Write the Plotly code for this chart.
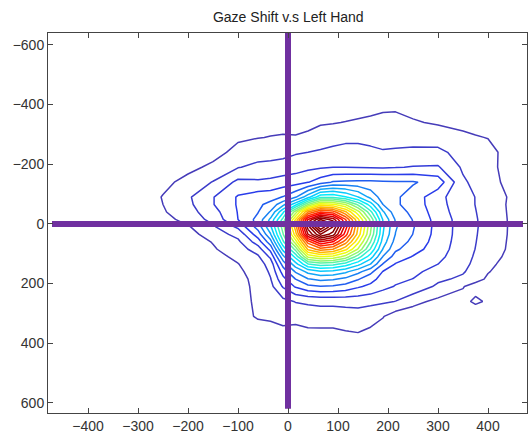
import plotly.graph_objects as go

# ---- density grid ----
grid_x = [-300, -250, -200, -150, -100, -60, -35, -10, 15, 40, 65, 90, 115, 140, 165, 190, 215, 250, 300, 350, 375, 400, 450]
grid_y = [-390, -340, -290, -240, -190, -140, -90, -65, -40, -15, 10, 35, 60, 85, 110, 135, 160, 185, 210, 260, 310, 360, 410]

z_r01 = [0.05, 0.08, 0.12, 0.18, 0.33, 0.40, 0.43, 0.46, 0.45, 0.48, 0.50, 0.50, 0.55, 0.70, 0.80, 0.90, 0.92, 0.75, 0.55, 0.45, 0.38, 0.30, 0.10]
z_r02 = [0.07, 0.12, 0.18, 0.30, 0.52, 0.65, 0.72, 0.78, 0.75, 0.80, 0.92, 0.95, 1.03, 1.10, 1.15, 1.20, 1.20, 1.08, 0.90, 0.80, 0.68, 0.55, 0.20]
z_r03 = [0.10, 0.16, 0.28, 0.45, 0.85, 0.97, 1.03, 1.06, 1.05, 1.15, 1.35, 1.55, 1.75, 1.75, 1.65, 1.55, 1.60, 1.55, 1.50, 1.15, 1.06, 0.97, 0.35]
z_r04 = [0.14, 0.25, 0.40, 0.66, 1.29, 1.55, 1.60, 1.70, 1.90, 2.00, 2.15, 2.30, 2.35, 2.35, 2.25, 2.10, 2.15, 2.25, 2.25, 1.60, 1.45, 1.30, 0.55]
z_r05 = [0.20, 0.45, 0.75, 1.20, 1.95, 2.25, 2.30, 2.40, 2.55, 2.75, 2.90, 2.98, 2.98, 2.95, 2.93, 2.90, 2.95, 3.05, 3.10, 1.85, 1.55, 1.25, 0.60]
z_r06 = [0.30, 0.75, 1.30, 2.05, 3.25, 3.15, 3.25, 3.45, 3.60, 3.95, 4.50, 5.10, 5.15, 5.20, 5.20, 5.15, 5.10, 5.10, 4.60, 2.15, 1.75, 1.35, 0.65]
z_r07 = [0.40, 1.05, 1.85, 2.95, 4.10, 4.50, 4.60, 5.05, 5.90, 7.60, 9.70, 9.80, 9.10, 8.03, 6.72, 5.50, 5.15, 4.60, 3.30, 2.35, 1.98, 1.60, 0.80]
z_r08 = [0.35, 1.00, 1.75, 2.95, 4.10, 4.80, 5.30, 6.70, 8.60, 12.00, 14.50, 14.20, 13.00, 10.80, 8.52, 6.00, 5.15, 4.60, 3.35, 2.40, 1.98, 1.55, 0.78]
z_r09 = [0.30, 0.90, 1.60, 2.60, 4.05, 4.95, 6.10, 8.80, 12.50, 17.00, 19.00, 18.50, 16.20, 13.40, 10.29, 7.14, 5.40, 4.80, 3.45, 2.46, 2.03, 1.60, 0.79]
z_r10 = [0.30, 0.60, 1.40, 2.30, 4.00, 5.30, 7.20, 10.30, 15.00, 21.00, 24.00, 22.50, 19.00, 15.20, 11.73, 7.90, 5.89, 4.95, 3.60, 2.53, 2.08, 1.63, 0.81]
z_r11 = [0.30, 0.54, 0.90, 1.85, 3.20, 5.40, 7.80, 11.50, 16.50, 23.50, 28.00, 25.00, 20.50, 16.00, 12.25, 8.17, 6.10, 5.08, 3.64, 2.55, 2.10, 1.64, 0.82]
z_r12 = [0.28, 0.40, 0.60, 1.50, 2.30, 4.50, 6.90, 10.90, 15.50, 22.00, 25.00, 23.50, 19.50, 15.60, 11.93, 8.01, 5.97, 4.98, 3.62, 2.54, 2.07, 1.60, 0.82]
z_r13 = [0.25, 0.35, 0.50, 1.05, 1.80, 3.50, 5.60, 9.80, 13.50, 18.50, 21.00, 20.00, 17.50, 14.30, 11.03, 7.54, 5.63, 4.73, 3.55, 2.50, 2.03, 1.55, 0.80]
z_r14 = [0.22, 0.30, 0.40, 0.90, 1.50, 2.50, 4.30, 8.30, 11.30, 16.20, 17.50, 17.00, 15.30, 12.90, 9.90, 6.93, 5.19, 4.41, 3.45, 2.45, 1.98, 1.50, 0.78]
z_r15 = [0.20, 0.25, 0.35, 0.70, 1.20, 1.85, 3.20, 6.70, 9.30, 13.20, 14.00, 13.70, 12.60, 10.50, 8.48, 5.94, 4.57, 3.94, 3.25, 2.40, 1.88, 1.35, 0.72]
z_r16 = [0.18, 0.22, 0.30, 0.55, 0.97, 1.55, 2.40, 5.40, 7.60, 9.89, 10.50, 10.26, 9.50, 8.33, 6.99, 4.93, 3.93, 3.64, 3.00, 2.30, 1.75, 1.20, 0.60]
z_r17 = [0.15, 0.20, 0.28, 0.50, 0.85, 1.35, 2.15, 4.40, 6.10, 7.30, 7.83, 7.70, 7.22, 6.32, 5.30, 3.95, 3.52, 3.25, 2.60, 2.10, 1.58, 1.05, 0.50]
z_r18 = [0.14, 0.18, 0.25, 0.45, 0.75, 1.25, 1.95, 3.70, 5.00, 5.94, 6.25, 6.13, 5.76, 5.08, 4.36, 3.61, 3.21, 2.98, 2.20, 1.80, 1.33, 0.85, 0.40]
z_r19 = [0.13, 0.15, 0.22, 0.40, 0.72, 1.20, 1.70, 3.10, 4.10, 4.75, 4.94, 4.87, 4.61, 4.13, 3.77, 3.27, 2.94, 2.70, 1.80, 1.05, 0.60, 0.55, 0.35]
z_r20 = [0.10, 0.12, 0.18, 0.30, 0.70, 1.15, 1.50, 1.70, 2.05, 2.15, 2.25, 2.25, 2.31, 2.35, 2.25, 2.15, 1.98, 1.30, 0.75, 0.70, 1.20, 0.85, 0.30]
z_r21 = [0.08, 0.10, 0.12, 0.20, 0.65, 1.10, 1.15, 1.30, 1.30, 1.45, 1.47, 1.46, 1.50, 1.55, 1.40, 1.05, 0.50, 0.40, 0.40, 0.30, 0.20, 0.30, 0.15]
z_r22 = [0.06, 0.08, 0.10, 0.15, 0.35, 0.60, 0.70, 0.82, 0.75, 0.86, 0.87, 0.87, 0.98, 1.05, 0.85, 0.60, 0.30, 0.25, 0.25, 0.20, 0.18, 0.15, 0.10]
z_r23 = [0.04, 0.05, 0.06, 0.10, 0.20, 0.30, 0.40, 0.43, 0.44, 0.46, 0.46, 0.46, 0.45, 0.50, 0.43, 0.40, 0.20, 0.15, 0.15, 0.10, 0.09, 0.08, 0.05]

# contour levels
level_start = 1
level_end = 27
level_step = 1

# purple cross-hair lines
vline_x = [0, 0]
vline_y = [-650, 620]
hline_x = [-472, 470]
hline_y = [0, 0]

# axis ticks
x_ticks = [-400, -300, -200, -100, 0, 100, 200, 300, 400]
y_ticks = [-600, -400, -200, 0, 200, 400, 600]

z_grid = [z_r01, z_r02, z_r03, z_r04, z_r05, z_r06, z_r07, z_r08, z_r09, z_r10, z_r11, z_r12,
          z_r13, z_r14, z_r15, z_r16, z_r17, z_r18, z_r19, z_r20, z_r21, z_r22, z_r23]

jet = [[0.0, 'rgb(70,60,185)'], [0.14, 'rgb(40,60,235)'], [0.36, 'rgb(0,235,255)'],
       [0.61, 'rgb(255,255,0)'], [0.86, 'rgb(255,0,0)'], [1.0, 'rgb(140,0,0)']]

fig = go.Figure()
fig.add_trace(go.Contour(
    x=grid_x, y=grid_y, z=z_grid,
    contours=dict(start=level_start, end=level_end, size=level_step, coloring='lines'),
    line=dict(width=1.5, smoothing=0),
    colorscale=jet, zmin=0, zmax=23.5, showscale=False, hoverinfo='skip'))

purple = '#7030A0'
fig.add_trace(go.Scatter(x=vline_x, y=vline_y, mode='lines',
                         line=dict(color=purple, width=6), hoverinfo='skip', showlegend=False))
fig.add_trace(go.Scatter(x=hline_x, y=hline_y, mode='lines',
                         line=dict(color=purple, width=6), hoverinfo='skip', showlegend=False))

axis_font = dict(family='Arial, Liberation Sans, sans-serif', size=14, color='#333333')
fig.update_layout(
    width=529, height=437,
    margin=dict(l=48, r=2, t=33, b=24),
    paper_bgcolor='white', plot_bgcolor='white',
    showlegend=False,
    title=dict(text='Gaze Shift v.s Left Hand', x=0.545, xanchor='center',
               y=0.961, yanchor='middle', yref='container',
               font=dict(family='Arial, Liberation Sans, sans-serif', size=14, color='#222222')),
    xaxis=dict(range=[-480, 478], tickvals=x_ticks, ticks='inside', ticklen=5,
               tickcolor='#444444', showline=True, linecolor='#444444', linewidth=1,
               mirror='ticks', showgrid=False, zeroline=False, tickfont=axis_font),
    yaxis=dict(range=[634, -640], tickvals=y_ticks, ticks='inside', ticklen=5,
               tickcolor='#444444', showline=True, linecolor='#444444', linewidth=1,
               mirror='ticks', showgrid=False, zeroline=False, tickfont=axis_font),
)

fig.write_html('out.html')
